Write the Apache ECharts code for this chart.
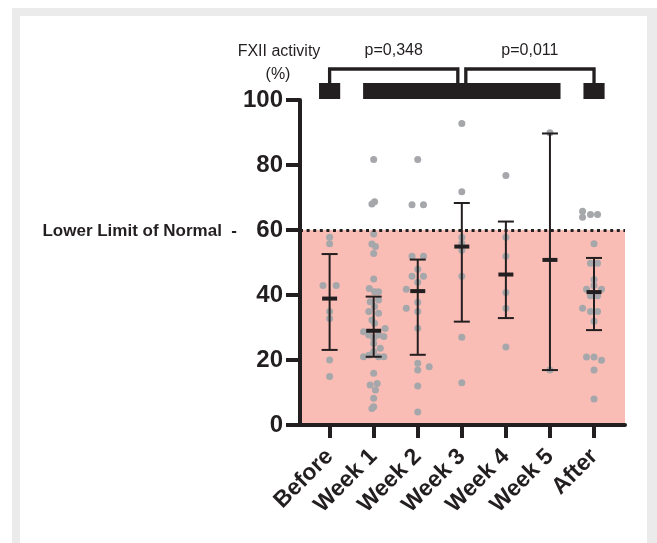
<!DOCTYPE html>
<html><head><meta charset="utf-8">
<script src="https://cdn.jsdelivr.net/npm/echarts@6/dist/echarts.min.js"></script>
<style>html,body{margin:0;padding:0;background:#fff}#c{width:657px;height:543px}</style>
</head><body><div id="c"></div>
<script>
// ---------- data ----------
const categories = ['Before', 'Week 1', 'Week 2', 'Week 3', 'Week 4', 'Week 5', 'After'];
const yTickStep = 20;
const yMax = 100;

// individual FXII activity values (%) and horizontal swarm offsets (category units)
const beforeVals = [57.8, 55.8, 42.9, 42.9, 34.9, 32.8, 20.0, 14.9];
const beforeJit  = [0, 0, -0.15, 0.15, 0, 0, 0, 0];
const week1Vals = [81.7, 68.7, 68.0, 58.8, 55.7, 54.9, 52.8, 44.9, 42.0, 41.0, 41.0, 38.5, 37.9, 36.5, 34.9, 34.4, 32.3, 31.3, 29.7, 28.7, 27.7, 27.7, 26.7, 27.2, 25.1, 23.6, 22.6, 21.5, 21.0, 21.0, 21.0, 15.9, 12.8, 12.3, 10.8, 8.2, 5.6, 5.1];
const week1Jit  = [0, 0.02, -0.04, 0, -0.04, 0.04, 0, 0, -0.1, 0.02, 0.11, 0.11, -0.08, 0.02, -0.11, 0.11, -0.04, 0.02, 0.26, -0.23, -0.11, 0.11, 0, 0.23, 0, 0.15, 0, -0.11, -0.23, 0.11, 0.23, 0, 0.08, -0.08, 0.04, 0, 0, -0.04];
const week2Vals = [81.7, 67.8, 67.8, 51.9, 51.9, 47.9, 45.8, 45.8, 43.9, 41.8, 37.8, 35.9, 34.9, 29.8, 19.0, 17.9, 16.9, 12.0, 4.0];
const week2Jit  = [0, -0.13, 0.13, -0.13, 0.13, 0, -0.13, 0.13, 0, -0.26, 0, -0.26, 0, 0, 0, 0.26, 0, 0, 0];
const week3Vals = [92.8, 71.8, 57.8, 55.9, 53.8, 45.8, 27.0, 13.0];
const week3Jit  = [0, 0, 0, 0, 0, 0, 0, 0];
const week4Vals = [76.8, 57.8, 51.9, 40.8, 35.9, 24.0];
const week4Jit  = [0, 0, 0, 0, 0, 0];
const week5Vals = [89.9, 16.9];
const week5Jit  = [0, 0];
const afterVals = [65.8, 63.9, 64.8, 64.8, 55.8, 49.8, 49.8, 44.8, 42.9, 41.8, 41.8, 39.8, 39.8, 35.9, 34.9, 34.9, 31.9, 20.9, 20.9, 19.9, 16.9, 8.0];
const afterJit  = [-0.26, -0.26, -0.08, 0.08, 0, -0.08, 0.08, 0, 0, -0.17, 0.17, -0.08, 0.08, -0.26, -0.08, 0.08, 0, -0.17, 0, 0.17, 0, 0];

// summary bars: centre line and whisker ends
const centres = [38.9, 29.0, 41.2, 54.9, 46.3, 50.8, 40.9];
const lowers  = [23.1, 21.0, 21.6, 31.8, 32.9, 16.9, 29.2];
const uppers  = [52.6, 39.5, 50.9, 68.3, 62.6, 89.7, 51.4];

const lowerLimitNormal = 60;
const treatmentSpans = [[0, 0], [1, 5], [6, 6]];
const comparisons = [[0, 3, 'p=0,348'], [3, 6, 'p=0,011']];

// ---------- build ----------
const groupVals = [beforeVals, week1Vals, week2Vals, week3Vals, week4Vals, week5Vals, afterVals];
const groupJit  = [beforeJit, week1Jit, week2Jit, week3Jit, week4Jit, week5Jit, afterJit];
const points = [];
groupVals.forEach((vals, i) => vals.forEach((v, k) => points.push([i + groupJit[i][k], v])));
const summary = centres.map((m, i) => [i, m, lowers[i], uppers[i]]);

const INK = '#231f20';
const FONT = '"Liberation Sans", Arial, Helvetica, sans-serif';
const X_MIN = -0.672, X_MAX = 6.703;

const chart = echarts.init(document.getElementById('c'), null, {renderer: 'canvas'});
chart.setOption({
  backgroundColor: '#ffffff',
  animation: false,
  graphic: [
    {type: 'rect', shape: {x: 12, y: 8, width: 645, height: 8}, style: {fill: '#ebebeb'}},
    {type: 'rect', shape: {x: 12, y: 8, width: 8, height: 535}, style: {fill: '#ebebeb'}},
    {type: 'rect', shape: {x: 647, y: 8, width: 10, height: 535}, style: {fill: '#ebebeb'}}
  ],
  grid: {left: 300, right: 32, top: 100, bottom: 118},
  xAxis: {
    type: 'value', min: X_MIN, max: X_MAX, z: 5,
    splitLine: {show: false},
    axisLine: {onZero: false, lineStyle: {color: INK, width: 4}},
    axisTick: {customValues: categories.map((c, i) => i), length: 13, lineStyle: {color: INK, width: 4}},
    axisLabel: {
      customValues: categories.map((c, i) => i),
      formatter: v => categories[Math.round(v)],
      rotate: 45, margin: 28, color: INK, fontSize: 23, fontWeight: 'bold', fontFamily: FONT
    }
  },
  yAxis: {
    type: 'value', min: 0, max: yMax, interval: yTickStep, z: 5,
    splitLine: {show: false},
    axisLine: {show: true, onZero: false, lineStyle: {color: INK, width: 4}},
    axisTick: {show: true, length: 14, lineStyle: {color: INK, width: 4}},
    axisLabel: {margin: 17, color: INK, fontSize: 24, fontWeight: 'bold', fontFamily: FONT}
  },
  series: [
    {
      type: 'scatter', z: 2, data: points, symbolSize: 7,
      itemStyle: {color: '#a6a7aa', opacity: 1},
      markArea: {
        silent: true,
        itemStyle: {color: '#f9bdb5'},
        data: [[{yAxis: 0}, {yAxis: lowerLimitNormal}]]
      },
      markLine: {
        silent: true, symbol: 'none', label: {show: false},
        lineStyle: {color: INK, width: 3, type: [3, 3.6]},
        data: [{yAxis: lowerLimitNormal}]
      }
    },
    {
      type: 'custom', z: 3, data: summary, encode: {x: 0, y: [1, 2, 3]},
      renderItem: function (params, api) {
        const c = api.coord([api.value(0), api.value(1)]);
        const lo = api.coord([api.value(0), api.value(2)]);
        const hi = api.coord([api.value(0), api.value(3)]);
        const st = {stroke: INK, lineWidth: 2};
        return {type: 'group', children: [
          {type: 'line', shape: {x1: c[0], y1: hi[1], x2: c[0], y2: lo[1]}, style: st},
          {type: 'line', shape: {x1: c[0] - 8, y1: hi[1], x2: c[0] + 8, y2: hi[1]}, style: st},
          {type: 'line', shape: {x1: c[0] - 8, y1: lo[1], x2: c[0] + 8, y2: lo[1]}, style: st},
          {type: 'rect', shape: {x: c[0] - 7.5, y: c[1] - 2, width: 15, height: 4}, style: {fill: INK}}
        ]};
      }
    },
    {
      type: 'custom', z: 4, clip: false, silent: true, data: [[0, 0]],
      renderItem: function (params, api) {
        const top = api.coord([0, yMax])[1];
        const axisX = api.coord([X_MIN, 0])[0];
        const y60 = api.coord([0, lowerLimitNormal])[1];
        const kids = [];
        const pad = 0.24;
        treatmentSpans.forEach(s => {
          const x0 = api.coord([s[0] - pad, 0])[0];
          const x1 = api.coord([s[1] + pad, 0])[0];
          kids.push({type: 'rect', shape: {x: x0, y: top - 17, width: x1 - x0, height: 16}, style: {fill: INK}});
        });
        const bracketY = top - 31;
        const shared = {};
        comparisons.forEach(c => { shared[c[0]] = (shared[c[0]] || 0) + 1; shared[c[1]] = (shared[c[1]] || 0) + 1; });
        comparisons.forEach(c => {
          let xa = api.coord([c[0], 0])[0];
          let xb = api.coord([c[1], 0])[0];
          if (shared[c[0]] > 1) xa += 4;
          if (shared[c[1]] > 1) xb -= 4;
          const st = {stroke: INK, lineWidth: 3.3, fill: null};
          kids.push({type: 'polyline', shape: {points: [[xa, top - 17], [xa, bracketY], [xb, bracketY], [xb, top - 17]]}, style: st});
          kids.push({type: 'text', style: {text: c[2], x: (xa + xb) / 2, y: top - 49, align: 'center', verticalAlign: 'middle', fill: INK, fontSize: 16, fontFamily: FONT}});
        });
        kids.push({type: 'text', style: {text: 'FXII activity', x: axisX - 21, y: top - 48.5, align: 'center', verticalAlign: 'middle', fill: INK, fontSize: 16, fontFamily: FONT}});
        kids.push({type: 'text', style: {text: '(%)', x: axisX - 22, y: top - 25, align: 'center', verticalAlign: 'middle', fill: INK, fontSize: 16, fontFamily: FONT}});
        kids.push({type: 'text', style: {text: 'Lower Limit of Normal  -', x: axisX - 63, y: y60 + 1, align: 'right', verticalAlign: 'middle', fill: INK, fontSize: 17, fontWeight: 'bold', fontFamily: FONT}});
        return {type: 'group', children: kids};
      }
    }
  ]
});
</script>
</body></html>
